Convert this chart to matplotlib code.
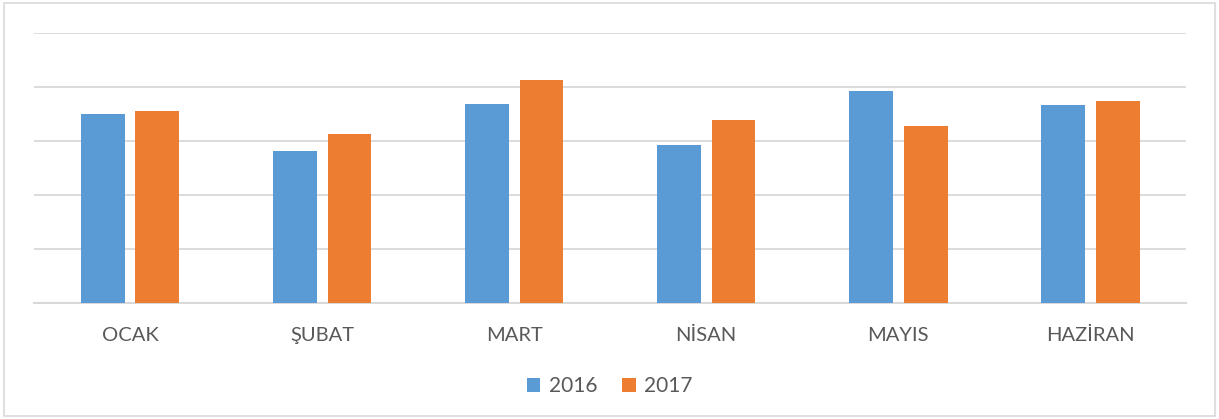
import numpy as np
import matplotlib
matplotlib.use("Agg")
import matplotlib.pyplot as plt
from matplotlib.patches import Rectangle

months = ["OCAK", "ŞUBAT", "MART", "NİSAN", "MAYIS", "HAZİRAN"]
series_2016 = [3.51, 2.81, 3.69, 2.93, 3.92, 3.67]
series_2017 = [3.56, 3.14, 4.13, 3.39, 3.28, 3.74]
years = ["2016", "2017"]

blue = "#5B9BD5"
orange = "#ED7D31"
grid_c = "#D9D9D9"
text_c = "#595959"

plt.rcParams["font.family"] = ["Lato", "DejaVu Sans"]

fig = plt.figure(figsize=(12.19, 4.19), dpi=100)
ax = fig.add_axes([0.0279, 0.2776, 0.9451, 0.6429])

x = np.arange(len(months))
w = 0.229
off = 0.143
ax.bar(x - off, series_2016, w, color=blue, label=years[0], zorder=3)
ax.bar(x + off, series_2017, w, color=orange, label=years[1], zorder=3)

ax.set_xlim(-0.5, len(months) - 0.5)
ax.set_ylim(0, 5)
ax.set_yticks(np.arange(0, 6))
ax.yaxis.grid(True, color=grid_c, linewidth=1.3, zorder=0)
ax.tick_params(axis="y", left=False, labelleft=False)
ax.tick_params(axis="x", bottom=False, labelsize=14.5, labelcolor=text_c, pad=14)
ax.set_xticks(x)
ax.set_xticklabels(months)
for s in ["top", "left", "right"]:
    ax.spines[s].set_visible(False)
ax.spines["bottom"].set_color(grid_c)
ax.spines["bottom"].set_linewidth(1.5)

leg = fig.legend(loc="center", bbox_to_anchor=(0.5, 0.078), ncol=2, frameon=False,
                 fontsize=15, handlelength=0.65, handleheight=0.65, handletextpad=0.4,
                 columnspacing=1.2)
for t in leg.get_texts():
    t.set_color(text_c)

fig.patches.append(Rectangle((0.003, 0.007), 0.994, 0.986, transform=fig.transFigure,
                             fill=False, edgecolor="#D9D9D9", linewidth=1.2))

fig.savefig("out.png", dpi=100)
